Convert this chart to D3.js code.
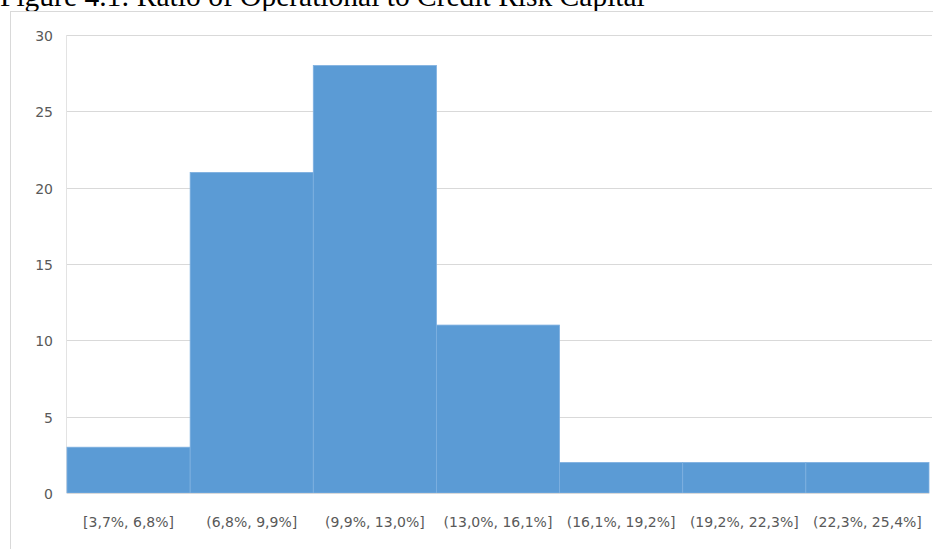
<!DOCTYPE html>
<html>
<head>
<meta charset="utf-8">
<script src="https://cdn.jsdelivr.net/npm/d3@7"></script>
<style>
  body { margin: 0; background: #fff; }
  svg { display: block; }
</style>
</head>
<body>
<div id="chart"></div>
<script>
// Histogram bins and counts
const BINS = ['[3,7%, 6,8%]', '(6,8%, 9,9%]', '(9,9%, 13,0%]', '(13,0%, 16,1%]',
              '(16,1%, 19,2%]', '(19,2%, 22,3%]', '(22,3%, 25,4%]'];
const COUNTS = [3, 21, 28, 11, 2, 2, 2];
const Y_TICKS = [0, 5, 10, 15, 20, 25, 30];
const TITLE = 'Figure 4.1: Ratio of Operational to Credit Risk Capital';

const W = 933, H = 549;
const plot = { left: 67, right: 929, top: 35, bottom: 493 };

const svg = d3.select('#chart').append('svg')
    .attr('width', W)
    .attr('height', H);

// Title (cropped at the top like the scan)
svg.append('text')
    .attr('x', 0)
    .attr('y', 5.5)
    .style('font-family', '"Liberation Serif", "Times New Roman", serif')
    .style('font-size', '29.5px')
    .attr('fill', '#000')
    .text(TITLE);

// Chart frame (runs off the right and bottom edges)
svg.append('rect')
    .attr('x', 10.5)
    .attr('y', 11.5)
    .attr('width', W)
    .attr('height', H)
    .attr('fill', 'none')
    .attr('stroke', '#d9d9d9')
    .attr('stroke-width', 1);

const x = d3.scaleBand()
    .domain(BINS)
    .range([plot.left, plot.right])
    .padding(0);

const y = d3.scaleLinear()
    .domain([0, 30])
    .range([plot.bottom, plot.top]);

// Gridlines
svg.append('g')
    .selectAll('line')
    .data(Y_TICKS.filter(d => d > 0))
    .enter()
    .append('line')
    .attr('x1', plot.left)
    .attr('x2', 932)
    .attr('y1', d => Math.round(y(d)) + 0.5)
    .attr('y2', d => Math.round(y(d)) + 0.5)
    .attr('stroke', '#d9d9d9')
    .attr('stroke-width', 1);

// left edge of plot area
svg.append('line')
    .attr('x1', plot.left - 0.5)
    .attr('x2', plot.left - 0.5)
    .attr('y1', y(30))
    .attr('y2', y(0))
    .attr('stroke', '#e3e3e3')
    .attr('stroke-width', 1);

// Bars
svg.append('g')
    .selectAll('rect')
    .data(COUNTS)
    .enter()
    .append('rect')
    .attr('x', (d, i) => x(BINS[i]))
    .attr('y', d => y(d))
    .attr('width', x.bandwidth())
    .attr('height', d => y(0) - y(d))
    .attr('fill', '#5b9bd5')
    .attr('stroke', '#7eb0e0')
    .attr('stroke-width', 0.8);

// Baseline
svg.append('line')
    .attr('x1', plot.left)
    .attr('x2', plot.right)
    .attr('y1', y(0) + 0.5)
    .attr('y2', y(0) + 0.5)
    .attr('stroke', '#d9d9d9');

// Y axis labels
const yAxis = d3.axisLeft(y).tickValues(Y_TICKS).tickSize(0).tickPadding(14);
const gy = svg.append('g')
    .attr('transform', `translate(${plot.left},1)`)
    .call(yAxis);
gy.select('.domain').remove();
gy.selectAll('text')
    .style('font-family', '"DejaVu Sans", sans-serif')
    .style('font-size', '14px')
    .attr('fill', '#595959');

// X axis labels
const xAxis = d3.axisBottom(x).tickSize(0).tickPadding(24);
const gx = svg.append('g')
    .attr('transform', `translate(0,${plot.bottom})`)
    .call(xAxis);
gx.select('.domain').remove();
gx.selectAll('text')
    .style('font-family', '"DejaVu Sans", sans-serif')
    .style('font-size', '14px')
    .attr('fill', '#595959');
</script>
</body>
</html>
